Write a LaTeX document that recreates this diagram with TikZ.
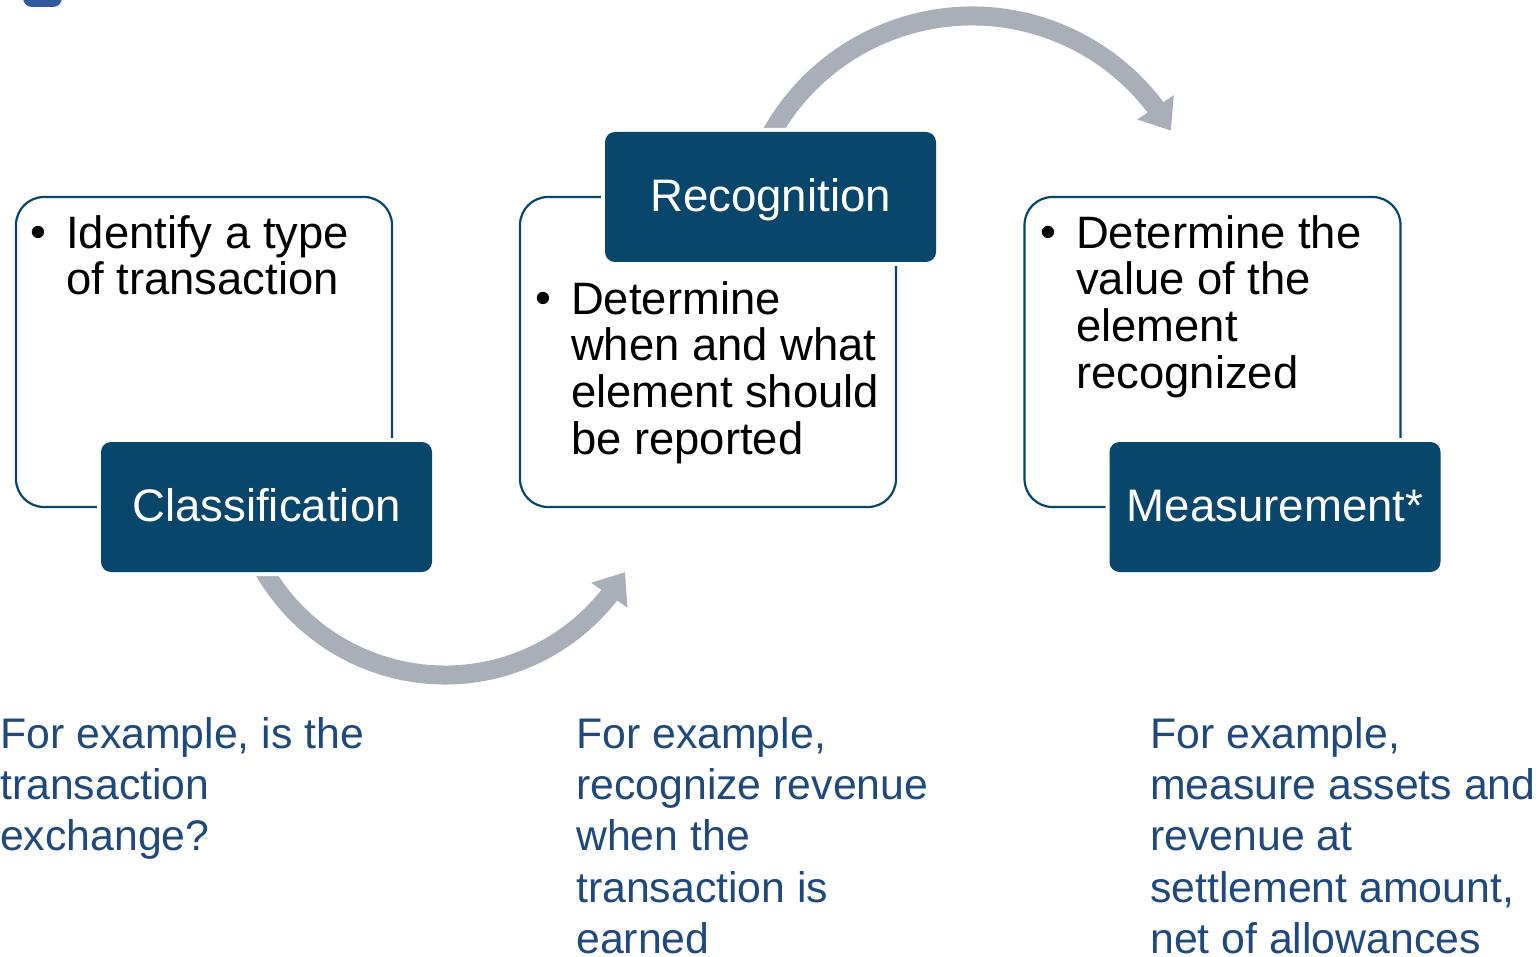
\documentclass[tikz,border=0pt]{standalone}
\usepackage{fontspec}
\setmainfont{Liberation Sans}
\usetikzlibrary{arrows.meta,bending}
\definecolor{boxblue}{HTML}{08466B}
\definecolor{noteblue}{HTML}{1F497D}
\definecolor{arcgray}{RGB}{169,175,184}
\definecolor{tabblue}{HTML}{2F5AA0}
\begin{document}
\begin{tikzpicture}[x=1pt,y=1pt,
  frame/.style={draw=boxblue, line width=2.2pt, rounded corners=28pt,
    minimum width=376pt, minimum height=310pt, inner sep=0pt},
  stage/.style={fill=boxblue, rounded corners=10pt, minimum width=331pt,
    minimum height=130pt, inner sep=0pt, text=white,
    font=\fontsize{45.6}{54}\selectfont, text height=29pt, text depth=0pt,
    preaction={draw=white, line width=8pt}},
  bullettext/.style={anchor=north west, inner sep=0pt, align=left,
    font=\fontsize{45.4}{46.7}\selectfont},
  bulletmark/.style={anchor=base, inner sep=0pt, font=\fontsize{45.4}{46.7}\selectfont},
  note/.style={anchor=north west, inner sep=0pt, align=left, text=noteblue,
    font=\fontsize{42.8}{51.3}\selectfont},
  bigarrow/.style={draw=arcgray, line width=19pt,
    -{Triangle[width=42pt, length=28pt]}}
]
\useasboundingbox (0,0) rectangle (1539,-957);
\clip (0,0) rectangle (1539,-957);

% small tab at the top edge
\fill[tabblue, rounded corners=9pt] (23,-7) rectangle (62,15);

% outlined content frames
\node[frame] (fa) at (204,-352) {};
\node[frame] (fb) at (708,-352) {};
\node[frame] (fc) at (1212.5,-352) {};

% curved arrows between the stages
\coordinate (ca) at (445,-466);
\coordinate (cb) at (972,-246);
\draw[bigarrow] ([shift={(208:209)}]ca) arc[start angle=208, end angle=329.5, radius=209];
\draw[bigarrow] ([shift={(155:230)}]cb) arc[start angle=155, end angle=30.1, radius=230];

% stage labels
\node[stage] (class) at (266.5,-507) {Classification};
\node[stage] (recog) at (770.5,-197) {Recognition};
\node[stage] (meas) at (1275,-507) {Measurement*};

% bullet points
\node[bulletmark] (ba) at (38,-248) {•};
\node[bullettext] (ta) at (66,-212) {\rule{0pt}{36pt}Identify a type\\of transaction};
\node[bulletmark] (bb) at (543,-314) {•};
\node[bullettext] (tb) at (571,-278) {\rule{0pt}{36pt}Determine\\when and what\\element should\\be reported};
\node[bulletmark] (bc) at (1048,-248) {•};
\node[bullettext] (tc) at (1076,-212) {\rule{0pt}{36pt}Determine the\\value of the\\element\\recognized};

% examples
\node[note] (na) at (0,-712) {\rule{0pt}{36pt}For example, is the\\transaction\\exchange?};
\node[note] (nb) at (576,-712) {\rule{0pt}{36pt}For example,\\recognize revenue\\when the\\transaction is\\earned};
\node[note] (nc) at (1150,-712) {\rule{0pt}{36pt}For example,\\measure assets and\\revenue at\\settlement amount,\\net of allowances};
\end{tikzpicture}
\end{document}
